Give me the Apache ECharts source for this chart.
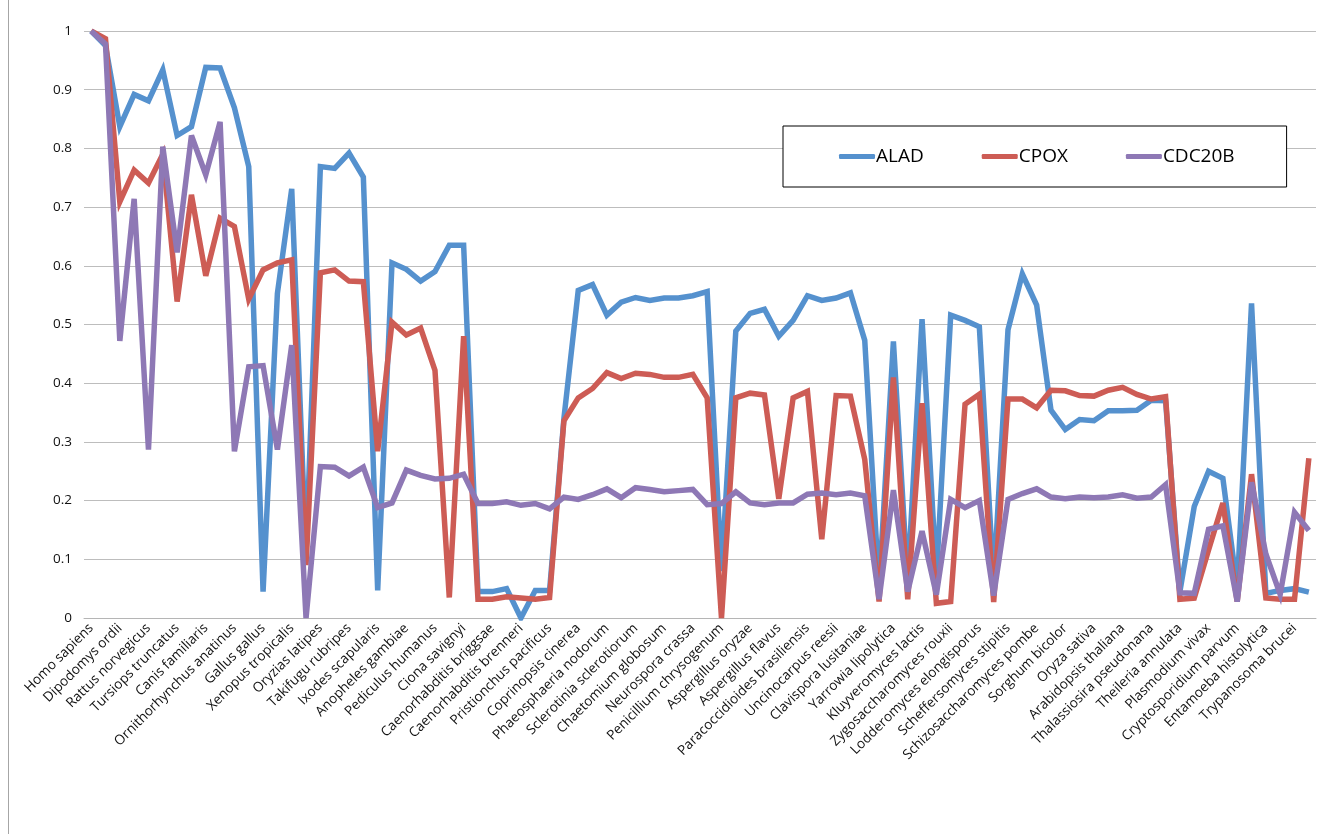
<!DOCTYPE html>
<html>
<head>
<meta charset="utf-8">
<script src="https://cdn.jsdelivr.net/npm/echarts@6/dist/echarts.min.js"></script>
<style>
  html, body { margin: 0; padding: 0; background: #fff; }
  #chart { width: 1341px; height: 834px; }
</style>
</head>
<body>
<div id="chart"></div>
<script>
// Labelled species (every other category is labelled on the axis)
const labelledSpecies = [
  'Homo sapiens','Dipodomys ordii','Rattus norvegicus','Tursiops truncatus','Canis familiaris',
  'Ornithorhynchus anatinus','Gallus gallus','Xenopus tropicalis','Oryzias latipes','Takifugu rubripes',
  'Ixodes scapularis','Anopheles gambiae','Pediculus humanus','Ciona savignyi','Caenorhabditis briggsae',
  'Caenorhabditis brenneri','Pristionchus pacificus','Coprinopsis cinerea','Phaeosphaeria nodorum',
  'Sclerotinia sclerotiorum','Chaetomium globosum','Neurospora crassa','Penicillium chrysogenum',
  'Aspergillus oryzae','Aspergillus flavus','Paracoccidioides brasiliensis','Uncinocarpus reesii',
  'Clavispora lusitaniae','Yarrowia lipolytica','Kluyveromyces lactis','Zygosaccharomyces rouxii',
  'Lodderomyces elongisporus','Scheffersomyces stipitis','Schizosaccharomyces pombe','Sorghum bicolor',
  'Oryza sativa','Arabidopsis thaliana','Thalassiosira pseudonana','Theileria annulata','Plasmodium vivax',
  'Cryptosporidium parvum','Entamoeba histolytica','Trypanosoma brucei'
];
const categoryCount = 86;
const categories = [];
for (let i = 0; i < categoryCount; i++) {
  categories.push(i % 2 === 0 ? labelledSpecies[i / 2] : '');
}

const alad = [
  1.0, 0.975, 0.837, 0.892, 0.881, 0.934, 0.822, 0.837, 0.938, 0.937,
  0.869, 0.769, 0.045, 0.553, 0.731, 0.11, 0.769, 0.766, 0.792, 0.751,
  0.047, 0.605, 0.594, 0.574, 0.59, 0.635, 0.635, 0.045, 0.045, 0.05,
  0.0, 0.047, 0.047, 0.34, 0.558, 0.568, 0.516, 0.538, 0.546, 0.541,
  0.545, 0.545, 0.549, 0.556, 0.08, 0.489, 0.519, 0.526, 0.48, 0.507,
  0.549, 0.541, 0.545, 0.554, 0.473, 0.05, 0.471, 0.06, 0.509, 0.07,
  0.516, 0.507, 0.496, 0.06, 0.491, 0.586, 0.533, 0.354, 0.321, 0.338,
  0.336, 0.353, 0.353, 0.354, 0.371, 0.37, 0.045, 0.19, 0.25, 0.238,
  0.05, 0.536, 0.042, 0.047, 0.05, 0.044
];
const cpox = [
  1.0, 0.987, 0.709, 0.763, 0.741, 0.79, 0.539, 0.721, 0.583, 0.681,
  0.667, 0.543, 0.593, 0.605, 0.61, 0.09, 0.588, 0.593, 0.574, 0.573,
  0.284, 0.504, 0.482, 0.494, 0.422, 0.035, 0.48, 0.032, 0.032, 0.036,
  0.034, 0.032, 0.035, 0.336, 0.375, 0.391, 0.418, 0.408, 0.417, 0.415,
  0.41, 0.41, 0.415, 0.375, 0.0, 0.375, 0.383, 0.38, 0.203, 0.375,
  0.386, 0.134, 0.379, 0.378, 0.27, 0.028, 0.41, 0.032, 0.366, 0.025,
  0.028, 0.364, 0.381, 0.027, 0.373, 0.373, 0.358, 0.388, 0.387, 0.379,
  0.378, 0.388, 0.393, 0.381, 0.373, 0.377, 0.032, 0.034, 0.116, 0.196,
  0.028, 0.245, 0.034, 0.032, 0.032, 0.272
];
const cdc20b = [
  1.0, 0.978, 0.472, 0.714, 0.287, 0.803, 0.623, 0.822, 0.755, 0.845,
  0.284, 0.428, 0.43, 0.287, 0.465, 0.0, 0.258, 0.257, 0.242, 0.257,
  0.188, 0.196, 0.252, 0.243, 0.237, 0.238, 0.245, 0.195, 0.195, 0.198,
  0.192, 0.195, 0.186, 0.206, 0.202, 0.21, 0.22, 0.205, 0.222, 0.219,
  0.215, 0.217, 0.219, 0.193, 0.195, 0.215, 0.196, 0.193, 0.196, 0.196,
  0.211, 0.213, 0.21, 0.213, 0.208, 0.032, 0.218, 0.045, 0.148, 0.04,
  0.202, 0.188, 0.2, 0.038, 0.202, 0.212, 0.22, 0.206, 0.203, 0.206,
  0.205, 0.206, 0.21, 0.204, 0.206, 0.227, 0.043, 0.042, 0.151, 0.157,
  0.028, 0.231, 0.109, 0.04, 0.18, 0.149
];
const seriesNames = ['ALAD', 'CPOX', 'CDC20B'];
const seriesColors = ['#5591CE', '#CD5C55', '#8E78B5'];
const seriesData = [alad, cpox, cdc20b];

const chart = echarts.init(document.getElementById('chart'), null, { renderer: 'canvas' });
const fontFamily = '"Open Sans", "Liberation Sans", sans-serif';

chart.setOption({
  animation: false,
  backgroundColor: '#ffffff',
  textStyle: { fontFamily: fontFamily },
  graphic: [{
    type: 'line',
    shape: { x1: 8.5, y1: 0, x2: 8.5, y2: 834 },
    style: { stroke: '#a6a6a6', lineWidth: 1 },
    silent: true
  }],
  grid: { left: 84, right: 25, top: 31, bottom: 216, containLabel: false },
  legend: {
    data: seriesNames,
    left: 783,
    top: 126,
    orient: 'horizontal',
    padding: [21, 52, 21, 56],
    itemGap: 58,
    itemWidth: 36,
    itemHeight: 5,
    icon: 'roundRect',
    backgroundColor: '#ffffff',
    borderColor: '#000000',
    borderWidth: 1,
    textStyle: { fontSize: 19, color: '#000', fontFamily: fontFamily, padding: [0, 0, 0, -4] }
  },
  xAxis: {
    type: 'category',
    data: categories,
    boundaryGap: true,
    axisLine: { lineStyle: { color: '#b5b5b5', width: 1 } },
    axisTick: { show: false },
    axisLabel: {
      interval: 1,
      rotate: 45,
      fontSize: 13.6,
      color: '#111',
      margin: 8,
      fontFamily: fontFamily
    },
    splitLine: { show: false }
  },
  yAxis: {
    type: 'value',
    min: 0,
    max: 1,
    interval: 0.1,
    axisLine: { show: false },
    axisTick: { show: false },
    axisLabel: { fontSize: 13.5, color: '#111', margin: 12, fontFamily: fontFamily },
    splitLine: { lineStyle: { color: '#bdbdbd', width: 1 } }
  },
  series: seriesNames.map((name, k) => ({
    name: name,
    type: 'line',
    data: seriesData[k],
    symbol: 'none',
    showSymbol: false,
    color: seriesColors[k],
    lineStyle: { width: 5.5, color: seriesColors[k], join: 'miter', miterLimit: 4 },
    emphasis: { disabled: true }
  }))
});
</script>
</body>
</html>
